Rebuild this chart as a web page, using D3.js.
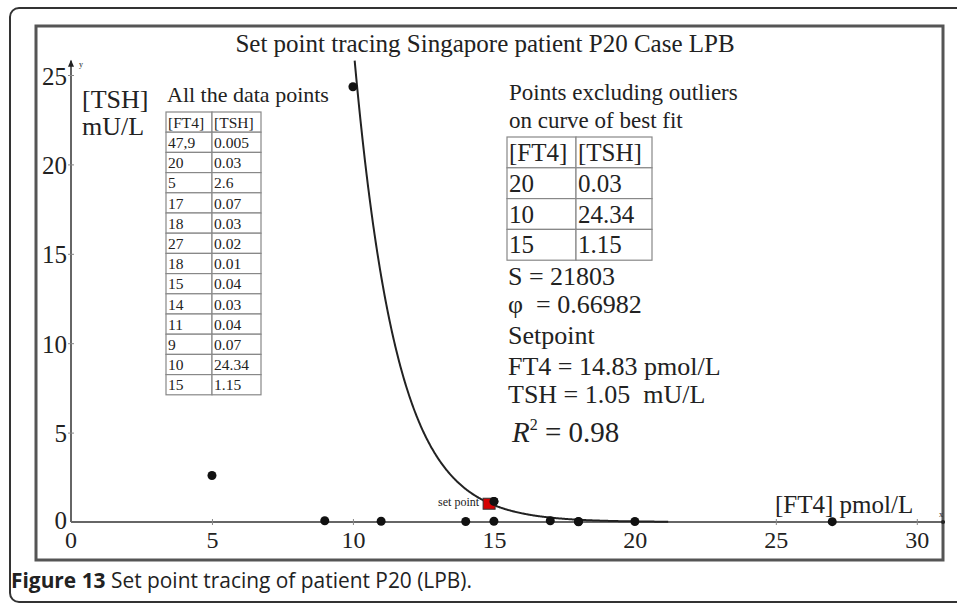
<!DOCTYPE html>
<html>
<head>
<meta charset="utf-8">
<script src="https://cdn.jsdelivr.net/npm/d3@7"></script>
<style>
  body { margin: 0; background: #fff; }
  svg text { font-family: "Liberation Serif", "Times New Roman", serif; fill: #222; white-space: pre; }
  .cap text { font-family: "Open Sans", sans-serif; }
</style>
</head>
<body>
<div id="canvas"></div>
<script>
// all measured points (FT4 pmol/L, TSH mU/L)
const allFT4 = ["47,9", "20", "5", "17", "18", "27", "18", "15", "14", "11", "9", "10", "15"];
const allTSH = ["0.005", "0.03", "2.6", "0.07", "0.03", "0.02", "0.01", "0.04", "0.03", "0.04", "0.07", "24.34", "1.15"];

// points on the curve of best fit
const fitFT4 = ["20", "10", "15"];
const fitTSH = ["0.03", "24.34", "1.15"];

// fit parameters and set point
const S = 21803;
const phi = 0.66982;
const setFT4 = 14.83;
const setTSH = 1.05;

const xTicks = [0, 5, 10, 15, 20, 25, 30];
const yTicks = [0, 5, 10, 15, 20, 25];

const infoLines = ["S = 21803", "\u03c6  = 0.66982", "Setpoint", "FT4 = 14.83 pmol/L", "TSH = 1.05  mU/L"];

const num = (s) => +s.replace(",", ".");

const width = 957;
const height = 604;

const svg = d3.select("#canvas").append("svg")
  .attr("width", width)
  .attr("height", height);

// outer rounded box
svg.append("rect")
  .attr("x", 10).attr("y", 8)
  .attr("width", 980).attr("height", 594)
  .attr("rx", 9)
  .attr("fill", "none")
  .attr("stroke", "#333")
  .attr("stroke-width", 2);

// inner frame
svg.append("rect")
  .attr("x", 36).attr("y", 26)
  .attr("width", 907).attr("height", 534)
  .attr("fill", "none")
  .attr("stroke", "#555")
  .attr("stroke-width", 3);

const x = d3.scaleLinear().domain([0, 31]).range([71, 945]);
const y = d3.scaleLinear().domain([0, 25]).range([522, 75]);

// x axis
const gx = svg.append("g")
  .attr("transform", `translate(0, ${y(0)})`)
  .call(d3.axisBottom(x).tickValues(xTicks.filter((d) => d > 0)).tickSize(3));
gx.select(".domain").attr("stroke", "#666").attr("stroke-width", 2).attr("d", `M${x(0)},0H${x(31)}`);
gx.selectAll(".tick line").attr("stroke", "#888").attr("y1", -3).attr("y2", 3);
gx.selectAll(".tick text")
  .attr("y", 26).attr("dy", null)
  .style("font-size", "24px")
  .style("font-family", "Liberation Serif, serif")
  .attr("fill", "#222");

// y axis
const gy = svg.append("g")
  .attr("transform", `translate(${x(0)}, 0)`)
  .call(d3.axisLeft(y).tickValues(yTicks.filter((d) => d > 0)).tickSize(3));
gy.select(".domain").attr("stroke", "#666").attr("stroke-width", 2).attr("d", `M0,${y(0)}V${y(25.8)}`);
gy.selectAll(".tick line").attr("stroke", "#888").attr("x1", -3).attr("x2", 3);
gy.selectAll(".tick text")
  .attr("x", -4).attr("dy", "0.36em")
  .style("font-size", "25px")
  .style("font-family", "Liberation Serif, serif")
  .attr("fill", "#222");

// origin labels
svg.append("text").attr("x", x(0) - 4).attr("y", y(0) + 7)
  .attr("text-anchor", "end").style("font-size", "25px").text("0");
svg.append("text").attr("x", x(0)).attr("y", y(0) + 26)
  .attr("text-anchor", "middle").style("font-size", "24px").text("0");

// arrow heads
svg.append("path")
  .attr("d", `M${x(0) - 3},${y(25.8) + 6}L${x(0)},${y(25.8) - 1}L${x(0) + 3},${y(25.8) + 6}Z`)
  .attr("fill", "#222");
svg.append("circle").attr("cx", x(31) - 2).attr("cy", y(0)).attr("r", 2).attr("fill", "#222");
svg.append("text").attr("x", x(0) + 8).attr("y", y(25.8) + 6).style("font-size", "8px").text("y");
svg.append("text").attr("x", x(31) - 6).attr("y", y(0) - 5).style("font-size", "8px").text("x");

// title
svg.append("text")
  .attr("x", 485).attr("y", 52)
  .attr("text-anchor", "middle")
  .style("font-size", "25px")
  .text("Set point tracing Singapore patient P20 Case LPB");

// axis names
svg.append("text").attr("x", 82).attr("y", 108).style("font-size", "26px").text("[TSH]");
svg.append("text").attr("x", 82).attr("y", 135).style("font-size", "26px").text("mU/L");
svg.append("text").attr("x", 775).attr("y", 513).style("font-size", "25px").text("[FT4] pmol/L");

// fitted curve TSH = S * exp(-phi * FT4)
const curveX = d3.range(Math.log(S / 25.8) / phi, 21.2, 0.02);
svg.append("path")
  .datum(curveX)
  .attr("fill", "none")
  .attr("stroke", "#222")
  .attr("stroke-width", 2)
  .attr("d", d3.line().x((d) => x(d)).y((d) => y(S * Math.exp(-phi * d))));

// data points
const pts = allFT4.map((f, i) => ({ f: num(f), t: num(allTSH[i]) }))
  .filter((p) => p.f <= 31);
svg.selectAll("circle.pt")
  .data(pts)
  .enter()
  .append("circle")
  .attr("class", "pt")
  .attr("cx", (p) => x(p.f))
  .attr("cy", (p) => y(p.t))
  .attr("r", 4.5)
  .attr("fill", "#111");

// set point marker
svg.append("rect")
  .attr("x", x(setFT4) - 6).attr("y", y(setTSH) - 5)
  .attr("width", 12).attr("height", 11)
  .attr("fill", "#d40000")
  .attr("stroke", "#333")
  .attr("stroke-width", 1);
svg.append("circle").attr("cx", x(15)).attr("cy", y(1.15)).attr("r", 4.5).attr("fill", "#111");
svg.append("text")
  .attr("x", x(setFT4) - 10).attr("y", y(setTSH) + 3)
  .attr("text-anchor", "end")
  .style("font-size", "12px")
  .attr("fill", "#333")
  .text("set point");

// table helper
const table = (x0, y0, colW, rowH, rows, fs) => {
  const g = svg.append("g");
  rows.forEach((r, i) => {
    r.forEach((c, j) => {
      g.append("rect")
        .attr("x", x0 + (j === 0 ? 0 : colW[0]))
        .attr("y", y0 + i * rowH)
        .attr("width", colW[j]).attr("height", rowH)
        .attr("fill", "#fff")
        .attr("stroke", "#888")
        .attr("stroke-width", 1.2);
      g.append("text")
        .attr("x", x0 + (j === 0 ? 0 : colW[0]) + 2)
        .attr("y", y0 + i * rowH + rowH * 0.78)
        .style("font-size", fs + "px")
        .text(c);
    });
  });
};

svg.append("text").attr("x", 167).attr("y", 102).style("font-size", "22px").text("All the data points");
table(166, 112, [46, 49], 20.2, [["[FT4]", "[TSH]"]].concat(allFT4.map((f, i) => [f, allTSH[i]])), 15.5);

svg.append("text").attr("x", 509).attr("y", 100).style("font-size", "23px").text("Points excluding outliers");
svg.append("text").attr("x", 509).attr("y", 128).style("font-size", "23px").text("on curve of best fit");
table(507, 137, [69, 76], 30.8, [["[FT4]", "[TSH]"]].concat(fitFT4.map((f, i) => [f, fitTSH[i]])), 25);

const infoY = [285, 313, 344, 375, 403];
infoLines.forEach((t, i) => {
  svg.append("text").attr("x", 508).attr("y", infoY[i]).style("font-size", "26px").text(t);
});
const r2 = svg.append("text").attr("x", 512).attr("y", 442).style("font-size", "29px");
r2.append("tspan").style("font-style", "italic").text("R");
r2.append("tspan").attr("dy", -12).style("font-size", "16px").text("2");
r2.append("tspan").attr("dy", 12).text(" = 0.98");

// caption
const cap = svg.append("g").attr("class", "cap")
  .append("text").attr("x", 11).attr("y", 588).style("font-size", "20.9px");
cap.append("tspan").style("font-weight", "bold").attr("fill", "#222").text("Figure 13");
cap.append("tspan").attr("fill", "#222").text(" Set point tracing of patient P20 (LPB).");
</script>
</body>
</html>
